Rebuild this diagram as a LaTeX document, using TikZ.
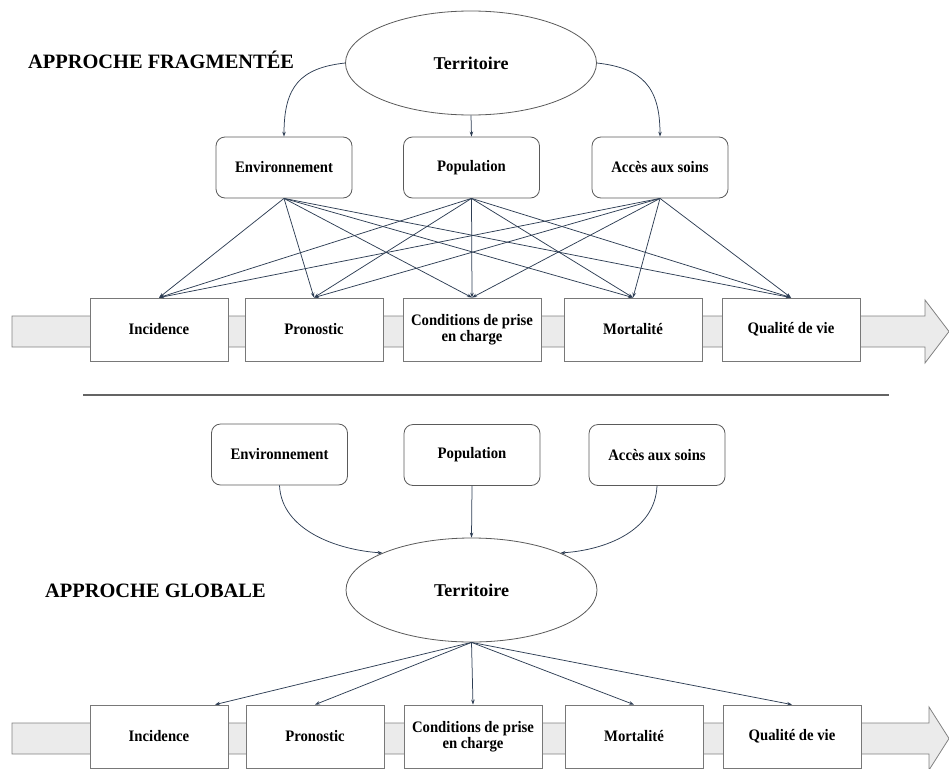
\documentclass[tikz,border=0pt]{standalone}
\usepackage{fontspec}
\setmainfont{Liberation Serif}
\newfontfamily\labfont[FakeStretch=0.92]{Liberation Serif}
\usetikzlibrary{shapes.geometric,arrows.meta,calc}
\definecolor{linec}{RGB}{46,62,84}
\definecolor{boxc}{RGB}{90,90,90}
\definecolor{sboxc}{RGB}{120,120,120}
\definecolor{bandfill}{RGB}{235,235,235}
\definecolor{bandline}{RGB}{130,130,130}
\definecolor{sepc}{RGB}{100,100,100}
\tikzset{
 lab/.style={font=\labfont\bfseries\fontsize{16}{16.5}\selectfont, align=center},
 rbox/.style={lab, draw=boxc, line width=0.8pt, rounded corners=9pt, fill=white, minimum width=136pt, minimum height=61pt, inner sep=0pt},
 sbox/.style={lab, draw=sboxc, line width=0.8pt, fill=white, minimum width=138pt, minimum height=63pt, inner sep=0pt},
 terr/.style={ellipse, draw=boxc, line width=0.8pt, fill=white, minimum width=251pt, minimum height=104pt, inner sep=0pt, font=\bfseries\fontsize{18}{20}\selectfont},
 ttl/.style={anchor=base west, inner sep=0pt, font=\bfseries\fontsize{20.4}{24}\selectfont},
 conn/.style={draw=linec, line width=0.75pt, -{Stealth[length=5pt,width=3.5pt]}},
 band/.style={draw=bandline, line width=0.8pt, fill=bandfill},
}
\begin{document}
\begin{tikzpicture}[x=1pt,y=-1pt]
\useasboundingbox (0,0) rectangle (949,768);

% ---------- top section ----------
\node[ttl] (title1) at (28,68) {APPROCHE FRAGMENTÉE};
\node[terr] (ter1) at (471,63) {Territoire};
\node[rbox] (env1) at (284,167.5) {Environnement};
\node[rbox] (pop1) at (471.5,167.5) {Population};
\node[rbox] (acc1) at (660,167.5) {Accès aux soins};

\draw[band] (12,316) -- (925,316) -- (925,300) -- (949,331.5) -- (925,363) -- (925,347) -- (12,347) -- cycle;

\node[sbox] (inc1) at (159,329.5) {Incidence};
\node[sbox] (pro1) at (314,329.5) {Pronostic};
\node[sbox] (con1) at (472,329.5) {Conditions de prise\\en charge};
\node[sbox] (mor1) at (633,329.5) {Mortalité};
\node[sbox] (qua1) at (791,329.5) {Qualité de vie};

\draw[conn] (ter1.west) .. controls +(-45,5) and +(0,-50) .. (env1.north);
\draw[conn] (ter1.south) -- (pop1.north);
\draw[conn] (ter1.east) .. controls +(45,5) and +(0,-50) .. (acc1.north);

\foreach \s in {env1,pop1,acc1}{
  \foreach \t in {inc1,pro1,con1,mor1,qua1}{
    \draw[conn] (\s.south) -- (\t.north);
  }
}

% ---------- separator ----------
\draw[sepc, line width=2pt] (83,395) -- (889,395);

% ---------- bottom section ----------
\node[rbox] (env2) at (279.5,454.5) {Environnement};
\node[rbox] (pop2) at (472,455) {Population};
\node[rbox] (acc2) at (657,455) {Accès aux soins};
\node[ttl] (title2) at (45,597) {APPROCHE GLOBALE};
\node[terr] (ter2) at (471.5,590) {Territoire};

\draw[conn] (env2.south) .. controls +(2,45) and +(-45,-3) .. (ter2.north west);
\draw[conn] (pop2.south) -- (ter2.north);
\draw[conn] (acc2.south) .. controls +(-2,45) and +(45,-3) .. (ter2.north east);

\draw[band] (12,723) -- (929,723) -- (929,707) -- (949,738.5) -- (929,770) -- (929,754) -- (12,754) -- cycle;

\node[sbox] (inc2) at (159,736.5) {Incidence};
\node[sbox] (pro2) at (315,736.5) {Pronostic};
\node[sbox] (con2) at (473,736.5) {Conditions de prise\\en charge};
\node[sbox] (mor2) at (634,736.5) {Mortalité};
\node[sbox] (qua2) at (792,736.5) {Qualité de vie};

\draw[conn] (ter2.south) -- ($(inc2.north)+(56,0)$);
\foreach \t in {pro2,con2,mor2,qua2}{
  \draw[conn] (ter2.south) -- (\t.north);
}
\end{tikzpicture}
\end{document}
